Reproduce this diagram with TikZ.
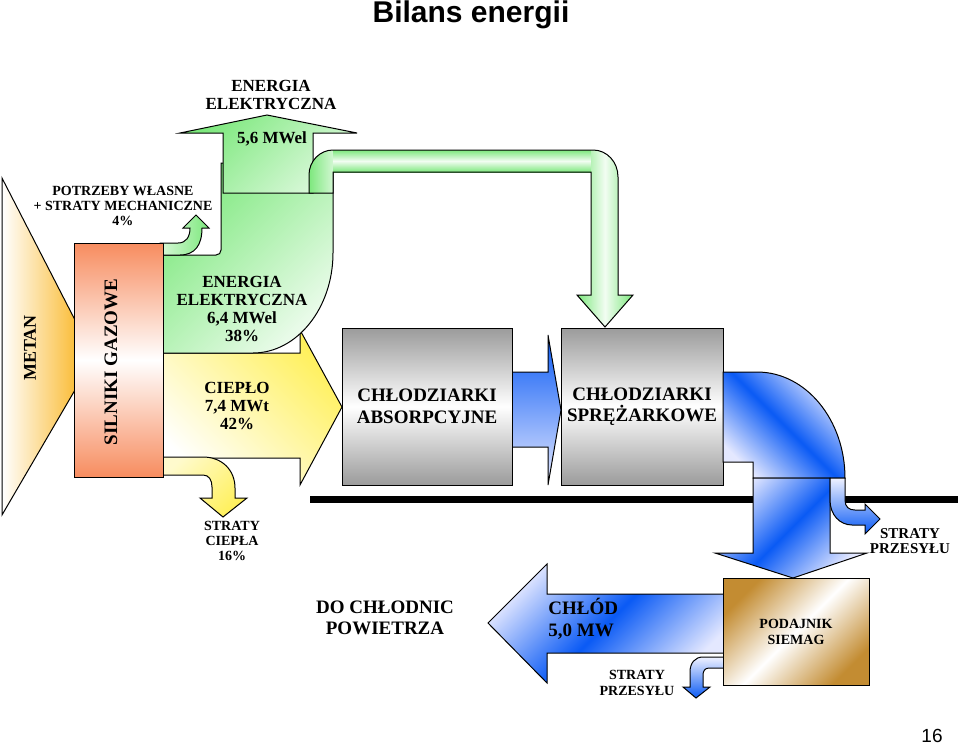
\documentclass[tikz,border=0pt]{standalone}
\usepackage{fontspec}
\setmainfont{Liberation Serif}
\newfontfamily\arial{Liberation Sans}
\definecolor{zielony}{RGB}{125,232,125}
\definecolor{zolty}{RGB}{255,240,90}
\definecolor{niebieski}{RGB}{10,90,245}
\definecolor{blady}{RGB}{228,232,255}
\definecolor{szary}{RGB}{155,155,155}
\definecolor{pomarancz}{RGB}{247,140,95}
\definecolor{metan}{RGB}{250,190,60}
\definecolor{zloty}{RGB}{195,140,50}

\begin{document}
\begin{tikzpicture}[x=0.5pt,y=0.5pt,
    zarys/.style={draw,line width=0.5pt},
    mala/.style={align=center,inner sep=0pt,font=\bfseries\fontsize{7}{7.6}\selectfont},
    srednia/.style={align=center,inner sep=0pt,font=\bfseries\fontsize{8.5}{9}\selectfont},
    duza/.style={align=center,inner sep=0pt,font=\bfseries\fontsize{9.5}{10.8}\selectfont}]
  \useasboundingbox (0,0) rectangle (960,-745);

  \node [font=\arial\bfseries\fontsize{15}{18}\selectfont] (tytul) at (471,-15) {Bilans energii};

  % metan
  \path[zarys,left color=white,right color=metan] (2,-178) -- (75,-320) -- (75,-390) -- (2,-515) -- cycle;

  % cieplo
  \path[zarys,top color=zolty,bottom color=white,shading angle=-45]
    (160,-353) -- (300,-353) -- (300,-330) -- (342,-407) -- (300,-485) -- (300,-458) -- (160,-458) -- cycle;
  \path[zarys,top color=zolty!30,bottom color=zolty,shading angle=45]
    (160,-457) -- (203,-457) .. controls (222,-457) and (235,-470) .. (235,-488) -- (235,-498) -- (247,-498)
    -- (223,-517) -- (200,-498) -- (212,-498) -- (212,-487) .. controls (212,-480) and (209,-475) .. (203,-475)
    -- (160,-475) -- cycle;

  % energia elektryczna
  \path[zarys,top color=zielony,bottom color=zielony!15,shading angle=45]
    (160,-255) -- (216,-255) .. controls (219,-255) and (221,-253) .. (221,-250) -- (221,-163) -- (333,-163)
    -- (333,-253) .. controls (333,-308) and (297,-353) .. (253,-353) -- (160,-353) -- cycle;
  \path[zarys,left color=zielony!30,right color=zielony]
    (160,-243) -- (178,-243) .. controls (186,-243) and (190,-237) .. (190,-228) -- (183,-228) -- (196,-215)
    -- (209,-228) -- (202,-228) .. controls (202,-245) and (195,-255) .. (180,-255) -- (160,-255) -- cycle;
  \path[zarys,top color=zielony,bottom color=zielony!25,shading angle=45]
    (223,-193) -- (223,-133) -- (180,-133) -- (267,-115) -- (357,-133) -- (313,-133) -- (313,-193) -- cycle;

  % rura do chlodziarek sprezarkowych
  \fill[left color=zielony,right color=zielony!35]
    (309,-193) -- (309,-175) .. controls (309,-161) and (320,-150) .. (333,-150) -- (333,-193) -- cycle;
  \fill[top color=zielony,bottom color=zielony,middle color=zielony!10] (333,-150) rectangle (592,-172);
  \fill[left color=zielony,right color=zielony,middle color=zielony!10]
    (591,-150) -- (593,-150) .. controls (607,-150) and (618,-162) .. (618,-177) -- (618,-295) -- (633,-295)
    -- (605,-327) -- (577,-295) -- (591,-295) -- cycle;
  \draw[line width=0.5pt]
    (309,-193) -- (309,-175) .. controls (309,-161) and (320,-150) .. (333,-150) -- (593,-150)
    .. controls (607,-150) and (618,-162) .. (618,-177) -- (618,-295) -- (633,-295) -- (605,-327)
    -- (577,-295) -- (591,-295) -- (591,-172) -- (333,-172) -- (333,-193) -- cycle;

  % chlodziarki
  \path[zarys,top color=niebieski,bottom color=blady]
    (510,-372) -- (548,-372) -- (548,-335) -- (561,-410) -- (548,-485) -- (548,-447) -- (510,-447) -- cycle;
  \node [zarys,duza,top color=szary,bottom color=szary,middle color=white,
    minimum width=85pt,minimum height=78.5pt] (absorpcja) at (427,-406.5) {CHŁODZIARKI\\ABSORPCYJNE};
  \node [zarys,duza,top color=szary,bottom color=szary,middle color=white,
    minimum width=81pt,minimum height=78.5pt] (sprezarki) at (642,-406.5) {CHŁODZIARKI\\SPRĘŻARKOWE};

  \fill (310,-496) rectangle (958,-503);

  % chlod
  \path[zarys,top color=blady,bottom color=blady,middle color=niebieski,shading angle=-45]
    (723,-372) -- (757,-372) .. controls (806,-372) and (845,-420) .. (845,-478) -- (753,-478) -- (753,-462)
    -- (723,-462) -- cycle;
  \path[zarys,top color=blady,bottom color=blady,middle color=niebieski,shading angle=45]
    (753,-478) -- (830,-478) -- (830,-553) -- (867,-553) -- (793,-578) -- (715,-553) -- (753,-553) -- cycle;
  \path[zarys,top color=blady!60,bottom color=niebieski]
    (830,-478) -- (845,-478) -- (845,-500) .. controls (845,-507) and (849,-510) .. (855,-510) -- (865,-510)
    -- (865,-504) -- (880,-519) -- (865,-534) -- (865,-525) -- (852,-525) .. controls (840,-525) and (830,-515)
    .. (830,-500) -- cycle;
  \path[zarys,top color=blady,bottom color=blady,middle color=niebieski,shading angle=45]
    (725,-594) -- (547,-594) -- (547,-564) -- (488,-623) -- (547,-683) -- (547,-653) -- (725,-653) -- cycle;
  \path[zarys,top color=blady!60,bottom color=niebieski]
    (725,-657) -- (703,-657) .. controls (695,-657) and (690,-663) .. (690,-672) -- (690,-687) -- (683,-687)
    -- (696,-698) -- (710,-687) -- (703,-687) -- (703,-675) .. controls (703,-671) and (705,-668) .. (709,-668)
    -- (725,-668) -- cycle;
  \node [zarys,align=center,inner sep=0pt,font=\bfseries\fontsize{7}{8}\selectfont,
    top color=zloty,bottom color=zloty,middle color=white,shading angle=45,
    minimum width=73pt,minimum height=53.5pt] (siemag) at (796,-631.5) {PODAJNIK\\SIEMAG};

  % silniki
  \node [zarys,top color=pomarancz,bottom color=pomarancz,middle color=white,
    minimum width=44.5pt,minimum height=117pt] (silniki) at (118.5,-360) {};
  \node [rotate=90,font=\bfseries\fontsize{9.5}{11}\selectfont] (silnikiopis) at (111,-362) {SILNIKI GAZOWE};
  \node [rotate=90,font=\bfseries\fontsize{9}{11}\selectfont] (metanopis) at (30,-348) {METAN};

  % opisy
  \node [srednia] (eltop) at (271,-95) {ENERGIA\\ELEKTRYCZNA};
  \node [srednia] (el56) at (272,-139) {5,6 MWel};
  \node [mala] (potrzeby) at (123,-206) {POTRZEBY WŁASNE\\+ STRATY MECHANICZNE\\4\%};
  \node [srednia] (el64) at (242,-309) {ENERGIA\\ELEKTRYCZNA\\6,4 MWel\\38\%};
  \node [srednia] (cieplo) at (237,-406) {CIEPŁO\\7,4 MWt\\42\%};
  \node [mala] (stratyc) at (232,-541) {STRATY\\CIEPŁA\\16\%};
  \node [mala,font=\bfseries\fontsize{7.5}{7.8}\selectfont] (stratyp1) at (910,-541) {STRATY\\PRZESYŁU};
  \node [mala] (stratyp2) at (637,-683) {STRATY\\PRZESYŁU};
  \node [duza] (chlodnice) at (385,-618) {DO CHŁODNIC\\POWIETRZA};
  \node [duza,align=left,anchor=west] (chlod) at (548,-619) {CHŁÓD\\5,0 MW};

  \node [font=\arial\fontsize{9.5}{11}\selectfont] (strona) at (932,-736) {16};
\end{tikzpicture}
\end{document}
